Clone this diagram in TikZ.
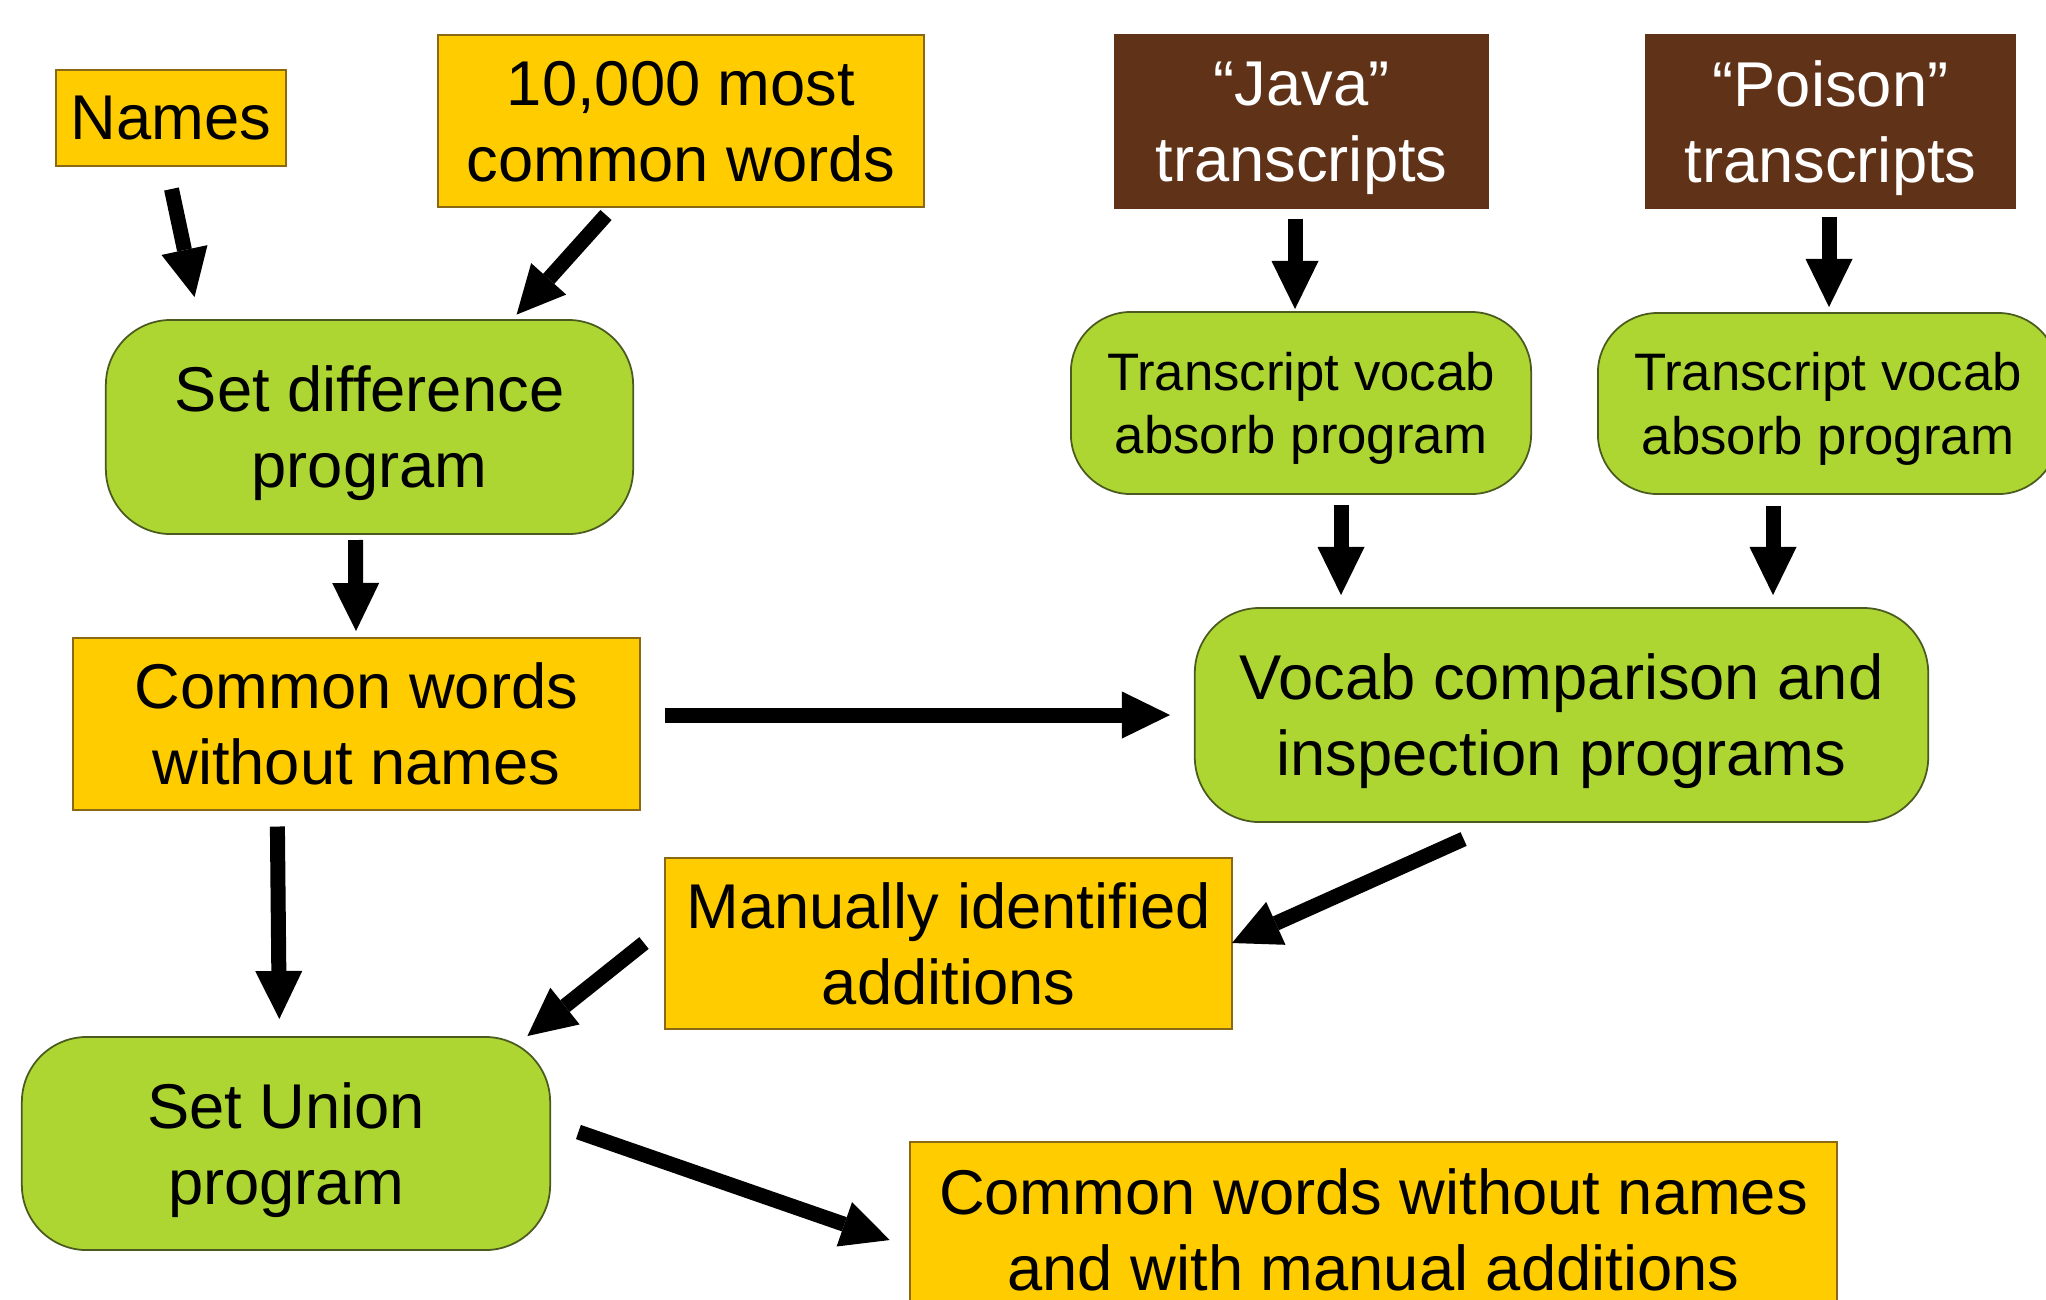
\documentclass[tikz,border=0pt]{standalone}
\usepackage{fontspec}
\setmainfont{Liberation Sans}
\usetikzlibrary{arrows.meta}
\definecolor{boxyellow}{HTML}{FFCC00}
\definecolor{boxgreen}{HTML}{ADD633}
\definecolor{boxbrown}{HTML}{603319}
\definecolor{yborder}{HTML}{8B6914}
\definecolor{gborder}{HTML}{4B5A1E}
\begin{document}
\begin{tikzpicture}[x=0.01cm,y=-0.01cm,
  bigfont/.style={font=\fontsize{18}{21.6}\selectfont},
  smallfont/.style={font=\fontsize{15}{18}\selectfont},
  databox/.style={draw=yborder, line width=0.5pt, fill=boxyellow, inner sep=0pt, align=center, text depth=0pt, bigfont},
  srcbox/.style={draw=boxbrown, line width=0.5pt, fill=boxbrown, text=white, inner sep=0pt, align=center, text depth=0pt, bigfont},
  progbox/.style={draw=gborder, line width=0.5pt, fill=boxgreen, rounded corners=0.65cm, inner sep=0pt, align=center, text depth=0pt, bigfont},
  flow/.style={line width=0.15cm, -{Triangle[width=0.47cm,length=0.48cm,line width=0pt]}}
]
\useasboundingbox (0,0) rectangle (2046,1299);
\clip (0,0) rectangle (2046,1299);

% boxes
\node[databox, minimum width=2.30cm, minimum height=0.96cm] (names) at (171,118) {Names};
\node[databox, minimum width=4.86cm, minimum height=1.72cm] (tenk) at (681,121) {10,000 most\\common words};
\node[progbox, minimum width=5.27cm, minimum height=2.14cm] (setdiff) at (369.5,427) {Set difference\\program};
\node[srcbox, minimum width=3.73cm, minimum height=1.73cm] (java) at (1301.5,121.5) {“Java”\\transcripts};
\node[srcbox, minimum width=3.69cm, minimum height=1.73cm] (poison) at (1830.5,121.5) {“Poison”\\transcripts};
\node[progbox, smallfont, rounded corners=0.6cm, minimum width=4.60cm, minimum height=1.82cm] (tvj) at (1301,403) {Transcript vocab\\absorb program};
\node[progbox, smallfont, rounded corners=0.6cm, minimum width=4.60cm, minimum height=1.81cm] (tvp) at (1828,403.5) {Transcript vocab\\absorb program};
\node[databox, minimum width=5.67cm, minimum height=1.72cm] (common) at (356.5,724) {Common words\\without names};
\node[progbox, minimum width=7.33cm, minimum height=2.14cm] (vocab) at (1561.5,715) {Vocab comparison and\\inspection programs};
\node[databox, minimum width=5.67cm, minimum height=1.71cm] (manual) at (948.5,943.5) {Manually identified\\additions};
\node[progbox, minimum width=5.28cm, minimum height=2.13cm] (union) at (286,1143.5) {Set Union\\program};
\node[databox, minimum width=9.27cm, minimum height=1.76cm] (final) at (1373.5,1230) {Common words without names\\and with manual additions};

% connector end points
\coordinate (a1s) at (171.5,189);  \coordinate (a1e) at (194.5,297);
\coordinate (a2s) at (606,215);    \coordinate (a2e) at (516.6,314.6);
\coordinate (a3s) at (355.5,540);  \coordinate (a3e) at (356,631);
\coordinate (a4s) at (277.4,826.5);\coordinate (a4e) at (279.3,1019);
\coordinate (a5s) at (664.5,715);  \coordinate (a5e) at (1170,715);
\coordinate (a6s) at (1295,218.5); \coordinate (a6e) at (1295,309);
\coordinate (a7s) at (1829,216.5); \coordinate (a7e) at (1829,307);
\coordinate (a8s) at (1341,505);   \coordinate (a8e) at (1341,595);
\coordinate (a9s) at (1773,506);   \coordinate (a9e) at (1773,595);
\coordinate (a10s) at (1463.6,839);\coordinate (a10e) at (1232,943);
\coordinate (a11s) at (644,943);   \coordinate (a11e) at (527.4,1036);
\coordinate (a12s) at (578.4,1132);\coordinate (a12e) at (889.7,1240);

\draw[flow] (a1s) -- (a1e);
\draw[flow] (a2s) -- (a2e);
\draw[flow] (a3s) -- (a3e);
\draw[flow] (a4s) -- (a4e);
\draw[flow] (a5s) -- (a5e);
\draw[flow] (a6s) -- (a6e);
\draw[flow] (a7s) -- (a7e);
\draw[flow] (a8s) -- (a8e);
\draw[flow] (a9s) -- (a9e);
\draw[flow] (a10s) -- (a10e);
\draw[flow] (a11s) -- (a11e);
\draw[flow] (a12s) -- (a12e);
\end{tikzpicture}
\end{document}
